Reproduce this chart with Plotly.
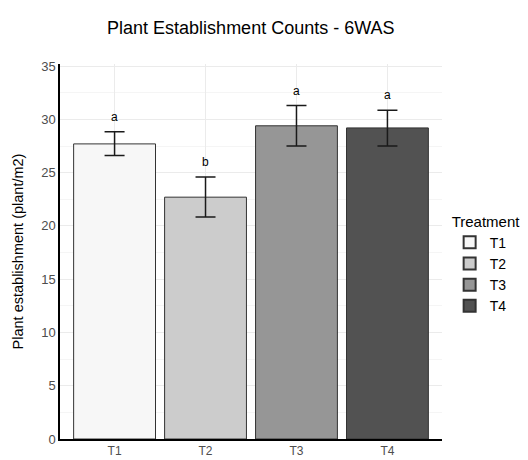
import plotly.graph_objects as go

# Treatment means and standard errors
treatments = ["T1", "T2", "T3", "T4"]
means = [27.7, 22.7, 29.4, 29.2]
err_plus = [1.15, 1.9, 1.9, 1.65]
err_minus = [1.1, 1.85, 1.9, 1.7]
letters = ["a", "b", "a", "a"]
fills = ["#F7F7F7", "#CCCCCC", "#969696", "#525252"]

fig = go.Figure()
for t, m, ep, em, c in zip(treatments, means, err_plus, err_minus, fills):
    fig.add_trace(go.Bar(
        x=[t], y=[m], name=t, width=0.9,
        marker=dict(color=c, line=dict(color="#333333", width=1)),
        error_y=dict(type="data", symmetric=False, array=[ep], arrayminus=[em],
                     color="#1a1a1a", thickness=1.5, width=10),
    ))

for t, m, ep, lab in zip(treatments, means, err_plus, letters):
    fig.add_annotation(x=t, y=m + ep + 1.4, text=lab, showarrow=False,
                       font=dict(size=12, color="#000000"))

fig.update_layout(
    width=528, height=460,
    barmode="overlay",
    paper_bgcolor="white", plot_bgcolor="white",
    margin=dict(l=60, r=86, t=64, b=21, autoexpand=False),
    font=dict(family="Liberation Sans, Arial, sans-serif"),
    title=dict(text="Plant Establishment Counts - 6WAS", x=0.475, xanchor="center",
               y=0.94, yanchor="middle", font=dict(size=18, color="#000000")),
    legend=dict(title=dict(text="Treatment", font=dict(size=15, color="#000000")),
                x=1.02, xanchor="left", y=0.465, yanchor="middle",
                font=dict(size=14, color="#000000"), tracegroupgap=0,
                itemsizing="constant"),
    xaxis=dict(range=[-0.6, 3.6], showgrid=True, gridcolor="#EBEBEB",
               showline=True, linecolor="#000000", linewidth=1.5, automargin=False,
               ticks="", tickfont=dict(size=12, color="#4D4D4D"), zeroline=False),
    yaxis=dict(range=[0, 35.2], dtick=5, showgrid=True, gridcolor="#EBEBEB",
               minor=dict(dtick=2.5, showgrid=True, gridcolor="#F5F5F5"),
               showline=True, linecolor="#000000", linewidth=1.5, automargin=False,
               ticks="", tickfont=dict(size=13, color="#4D4D4D"), zeroline=False,
               title=dict(text="Plant establishment (plant/m2)",
                          font=dict(size=14.5, color="#000000"), standoff=14)),
)

fig.write_html("out.html")
